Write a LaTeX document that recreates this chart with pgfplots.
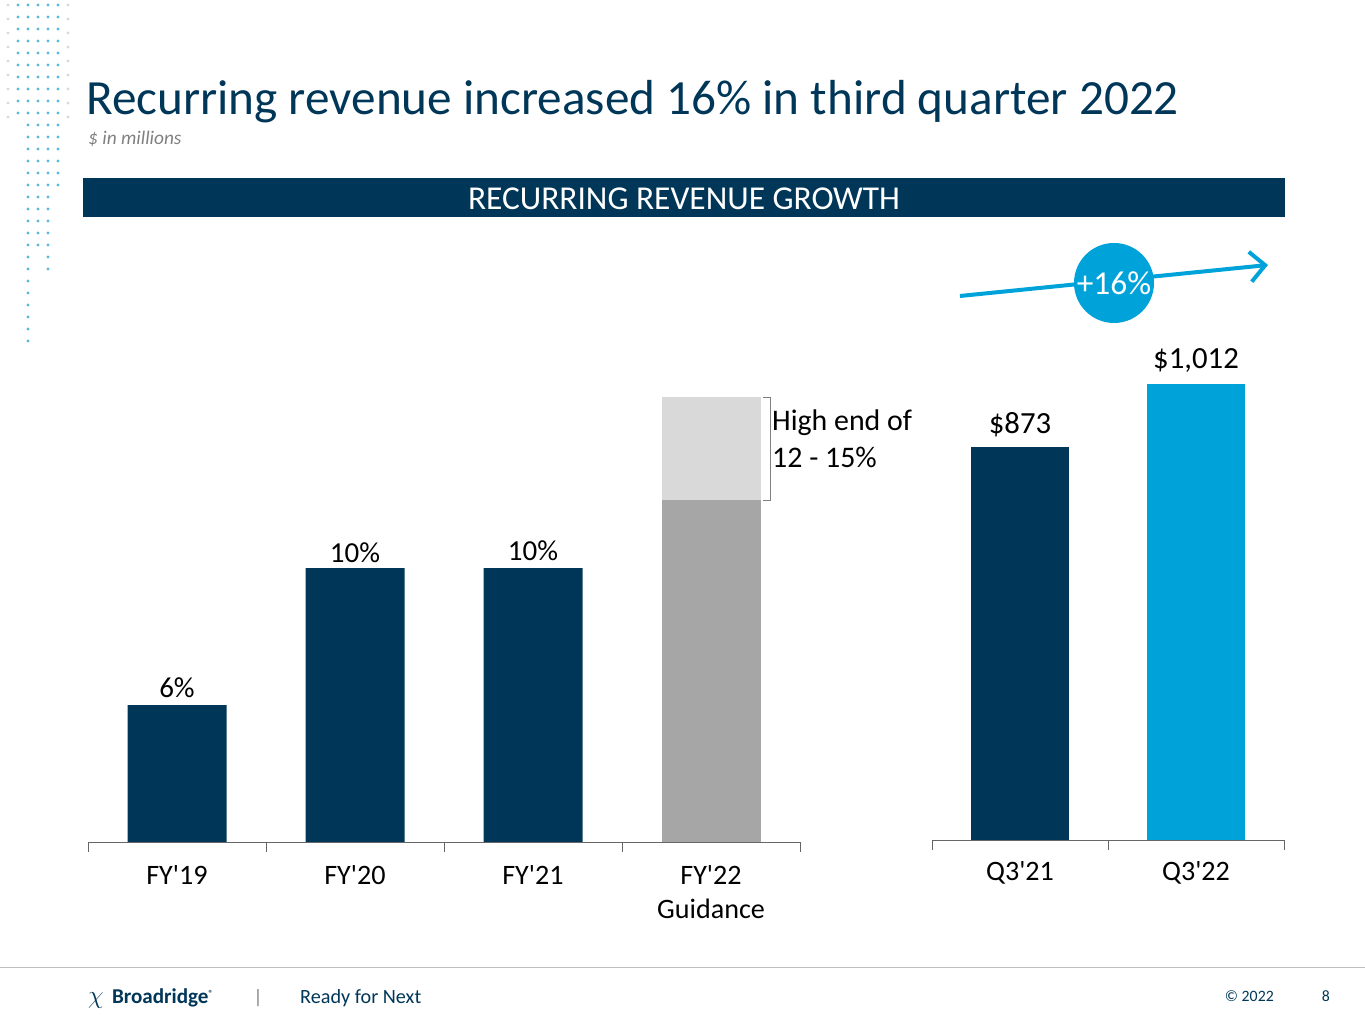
\documentclass[border=0pt]{standalone}
\usepackage{pgfplots}
\pgfplotsset{compat=1.18}
\usetikzlibrary{arrows.meta}
\usepackage{fontspec}
\setmainfont{Carlito}
\definecolor{navy}{HTML}{003658}
\definecolor{cyan}{HTML}{00A3D9}
\definecolor{mgray}{HTML}{A6A6A6}
\definecolor{lgray}{HTML}{D9D9D9}
\newcommand{\q}{\textquotesingle}
\begin{document}
\begin{tikzpicture}[x=0.2mm,y=0.2mm]
\useasboundingbox (0,0) rectangle (1365,1024);
% left axis
\begin{axis}[at={(17.6mm,36.4mm)},anchor=south west,scale only axis,
  width=142.4mm,height=100mm,xmin=-0.5,xmax=3.5,ymin=0,ymax=18.25,
  ybar stacked,bar width=19.8mm,axis y line=none,axis x line*=bottom,
  axis line style={black!60},
  xtick={0,1,2,3},xticklabels={FY\q19,FY\q20,FY\q21,{FY\q22\\Guidance}},
  xticklabel style={align=center,font=\fontsize{16}{19}\selectfont,yshift=-3.5mm},
  major tick length=0pt,minor xtick={-0.5,0.5,1.5,2.5,3.5},
  minor tick style={black!60},minor tick length=2mm,
  tick align=outside]
\addplot[fill=navy,draw=none] coordinates {(0,5) (1,10) (2,10) (3,0)};
\addplot[fill=mgray,draw=none] coordinates {(0,0) (1,0) (2,0) (3,12.5)};
\addplot[fill=lgray,draw=none] coordinates {(0,0) (1,0) (2,0) (3,3.75)};
\node[anchor=south,font=\fontsize{16.5}{18}\selectfont] at (axis cs:0,5.05) {6\%};
\node[anchor=south,font=\fontsize{16.5}{18}\selectfont] at (axis cs:1,9.95) {10\%};
\node[anchor=south,font=\fontsize{16.5}{18}\selectfont] at (axis cs:2,10.05) {10\%};
\end{axis}
% right axis
\begin{axis}[at={(186.4mm,36.8mm)},anchor=south west,scale only axis,
  width=70.4mm,height=100mm,xmin=-0.5,xmax=1.5,ymin=0,ymax=1110,
  ybar,bar width=19.6mm,axis y line=none,axis x line*=bottom,
  axis line style={black!60},
  xtick={0,1},xticklabels={Q3\q21,Q3\q22},
  xticklabel style={font=\fontsize{16}{19}\selectfont,yshift=-3mm},
  major tick length=0pt,minor xtick={-0.5,0.5,1.5},
  minor tick style={black!60},minor tick length=2mm,tick align=outside]
\addplot[fill=navy,draw=none,bar shift=0pt] coordinates {(0,873)};
\addplot[fill=cyan,draw=none,bar shift=0pt] coordinates {(1,1012)};
\node[anchor=south,font=\fontsize{17.5}{19}\selectfont] at (axis cs:0,880) {\$873};
\node[anchor=south,font=\fontsize{17.5}{19}\selectfont] at (axis cs:1,1025) {\$1,012};
\end{axis}
\begin{scope}[yshift=204.8mm,yscale=-1]
% decorative dots
\foreach \c/\n in {28/340,38/250,48/270,58/190,18/110}{
  \foreach \yy in {0,12,...,\n}{\fill[cyan!60!lgray] (\c,\yy+5) circle (1.6);}
}
\foreach \c in {8,68}{\foreach \yy in {0,14,...,120}{\fill[lgray] (\c,\yy+5) circle (1.6);}}
\node[anchor=base west,text=navy,font=\fontsize{28}{32}\selectfont] at (80,115) {Recurring revenue increased 16\% in third quarter 2022};
\node[anchor=base west,text=gray,font=\fontsize{11}{12}\selectfont\itshape] at (82,145) {\$ in millions};
\fill[navy] (83,178) rectangle (1285,217);
\node[text=white,font=\fontsize{19}{21}\selectfont] at (684,199) {RECURRING REVENUE GROWTH};
\draw[black!50] (763,397) -- (770,397) -- (770,500) -- (763,500);
\node[anchor=north west,align=left,font=\fontsize{17}{21}\selectfont] at (766,404) {High end of\\12 - 15\%};
\draw[cyan,line width=0.8mm,-{Straight Barb[length=3mm]}] (960,296) -- (1268,265);
\fill[cyan] (1114,283) circle (40);
\node[text=white,font=\fontsize{19}{21}\selectfont] at (1114,283) {+16\%};
% footer
\draw[black!25] (0,967) -- (1365,967);
\node[anchor=base west,text=navy,font=\fontsize{12}{14}\selectfont\bfseries] at (82,1004) {{\Large$\chi$}\, Broadridge\textsuperscript{\tiny ®}};
\node[anchor=base,text=gray,font=\fontsize{11}{13}\selectfont] at (258,1004) {|};
\node[anchor=base west,text=navy,font=\fontsize{11.5}{13}\selectfont] at (294,1004) {Ready for Next};
\node[anchor=base east,text=navy,font=\fontsize{9}{11}\selectfont] at (1280,1002) {© 2022};
\node[anchor=base east,text=navy,font=\fontsize{9}{11}\selectfont] at (1336,1002) {8};
\end{scope}
\end{tikzpicture}
\end{document}
